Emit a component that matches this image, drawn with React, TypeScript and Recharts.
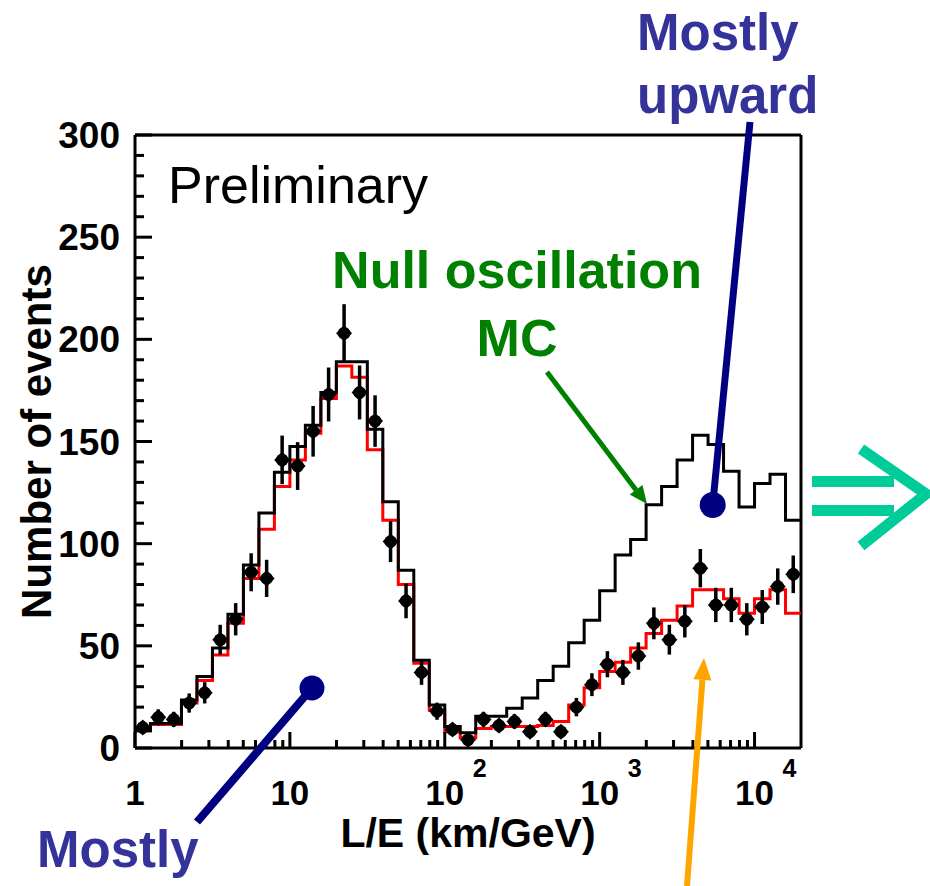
import { ComposedChart, Line, Scatter, ErrorBar, XAxis, YAxis, ReferenceLine, Label } from "recharts";

const FONT = '"Liberation Sans", Arial, Helvetica, sans-serif';

const WIDTH = 930;
const HEIGHT = 886;
// plot box in page pixels; chart margins and axis sizes are derived from it
const PLOT = { left: 135, right: 801, top: 135, bottom: 748 };

// 43 bins of 0.1 in log10(L/E), from 1 to 10^4.3 km/GeV
const BIN = 0.1;
const binCount = 43;
const X_MAX = binCount * BIN;
const Y_MAX = 300;

// Null oscillation MC (black histogram)
const nullMc = [
  8.5, 12, 12, 23.5, 35, 49, 65.5, 89.5, 115, 135,
  147.5, 158, 174, 189, 189, 156, 120.5, 87, 43, 21,
  10.5, 7.5, 15.5, 15.5, 19.5, 24.5, 33, 40, 51.5, 62.5,
  77, 94.5, 102, 119, 128, 141, 153, 148.5, 135.5, 118,
  129.5, 134, 111.5,
];

// Oscillated MC, best fit (red histogram)
const oscMc = [
  8.5, 11.5, 11.5, 22, 33, 45.5, 61, 83, 107, 128,
  141, 154, 171, 187, 181.5, 146, 111.5, 80, 41.5, 18.5,
  8, 5, 9.5, 10.5, 10.5, 10.5, 11, 13, 21, 29.5,
  37.5, 42, 49, 56, 62.5, 69.5, 77.5, 77.5, 73, 66,
  73, 77.5, 66,
];

// Observed events per bin and their errors
const observed = [
  10, 15, 14, 22, 27, 53, 63, 86, 83, 141,
  138, 155, 173, 203, 174, 160, 101, 72, 37, 18,
  9, 4, 14, 11, 13, 8, 14, 8, 20, 31,
  41, 37, 45, 61, 53, 62, 88, 70, 70, 63,
  69, 79, 85,
];
const observedErr = [
  3.2, 3.9, 3.7, 4.7, 5.2, 7.3, 7.9, 9.3, 9.1, 11.9,
  11.7, 12.4, 13.2, 14.2, 13.2, 12.6, 10, 8.5, 6.1, 4.2,
  3, 2, 3.7, 3.3, 3.6, 2.8, 3.7, 2.8, 4.5, 5.6,
  6.4, 6.1, 6.7, 7.8, 7.3, 7.9, 9.4, 8.4, 8.4, 7.9,
  8.3, 8.9, 9.2,
];

// axis ticks: labelled majors, short minors
const yMajorTicks = [0, 50, 100, 150, 200, 250, 300];
const yAllTicks = Array.from({ length: 31 }, (_, i) => i * 10);
const xMajorTicks = [0, 1, 2, 3, 4];
const xAllTicks: { v: number; major: boolean }[] = [];
for (let d = 0; d <= 4; d++) {
  for (let m = 1; m <= 9; m++) {
    const v = d + Math.log10(m);
    if (v <= X_MAX + 1e-9) xAllTicks.push({ v, major: m === 1 });
  }
}

const edges = Array.from({ length: binCount + 1 }, (_, i) => i * BIN);
const stepRows = (values: number[]) =>
  edges.map((x, i) => ({ x, v: values[Math.min(i, values.length - 1)] }));

const nullRows = stepRows(nullMc);
const oscRows = stepRows(oscMc);
const pointRows = observed.map((n, i) => ({ x: (i + 0.5) * BIN, n, err: observedErr[i] }));

const AXIS_LINE = { stroke: "#000", strokeWidth: 3 };

// x labels: 1, 10, then 10 with a raised exponent
const XTickLabel = ({ x, y, payload }: any) => {
  const d = Math.round(payload.value);
  return (
    <g fontFamily={FONT} fontWeight="bold" fill="#000">
      <text x={x} y={y + 57} textAnchor="middle" fontSize={35}>
        {d === 0 ? "1" : "10"}
      </text>
      {d >= 2 && (
        <text x={x + 28} y={y + 29} fontSize={25}>
          {d}
        </text>
      )}
    </g>
  );
};

const YTickLabel = ({ x, y, payload }: any) => (
  <text x={x - 15} y={y + 13} textAnchor="end" fontFamily={FONT} fontWeight="bold" fontSize={37} fill="#000">
    {payload.value}
  </text>
);

const Marker = ({ cx, cy }: any) => (
  <g>
    <circle cx={cx} cy={cy} r={6.3} fill="#000" />
    <path d={`M${cx},${cy - 8}L${cx + 8},${cy}L${cx},${cy + 8}L${cx - 8},${cy}Z`} fill="#000" />
  </g>
);

const NAVY_TEXT = "#333399";
const NAVY = "#000080";
const GREEN = "#008000";
const ORANGE = "#ffa500";
const TEAL = "#00cc99";

// inward tick marks along the left and bottom edges of the plot box
function TickMarks() {
  const px = (v: number) => PLOT.left + (v / X_MAX) * (PLOT.right - PLOT.left);
  const py = (v: number) => PLOT.bottom - (v / Y_MAX) * (PLOT.bottom - PLOT.top);
  return (
    <g stroke="#000" strokeWidth={3}>
      {yAllTicks.map((v) => (
        <line key={`y${v}`} x1={PLOT.left} x2={PLOT.left + (v % 50 === 0 ? 17 : 9)} y1={py(v)} y2={py(v)} />
      ))}
      {xAllTicks.map(({ v, major }) => (
        <line key={`x${v}`} x1={px(v)} x2={px(v)} y1={PLOT.bottom} y2={PLOT.bottom - (major ? 16 : 8)} />
      ))}
    </g>
  );
}

function Annotations() {
  return (
    <svg width={WIDTH} height={HEIGHT} style={{ position: "absolute", left: 0, top: 0, pointerEvents: "none" }}>
      <TickMarks />

      <text x={168} y={203} fontFamily={FONT} fontSize={52} fill="#000">Preliminary</text>

      <g fontFamily={FONT} fontWeight="bold" fontSize={52} fill={GREEN} textAnchor="middle">
        <text x={517} y={288}>Null oscillation</text>
        <text x={517} y={356}>MC</text>
      </g>
      <line x1={547} y1={372} x2={636} y2={490} stroke={GREEN} strokeWidth={5} />
      <polygon points="647,504 629.7,494.5 642.5,484.9" fill={GREEN} />

      <g fontFamily={FONT} fontWeight="bold" fontSize={51} fill={NAVY_TEXT}>
        <text x={637} y={50}>Mostly</text>
        <text x={637} y={113}>upward</text>
        <text x={37} y={867}>Mostly</text>
      </g>
      <line x1={750} y1={122} x2={712.7} y2={505} stroke={NAVY} strokeWidth={7} />
      <circle cx={712.7} cy={505} r={13} fill={NAVY} />
      <line x1={197} y1={822} x2={312} y2={688} stroke={NAVY} strokeWidth={8} />
      <circle cx={312} cy={688} r={12.5} fill={NAVY} />

      <line x1={687} y1={886} x2={702.4} y2={680} stroke={ORANGE} strokeWidth={6} />
      <polygon points="704,658 711.4,680.6 693.4,679.2" fill={ORANGE} />

      <rect x={812} y={476} width={82} height={11} fill={TEAL} />
      <rect x={812} y={505} width={82} height={11} fill={TEAL} />
      <polyline points="861,449 926,494 861,546" fill="none" stroke={TEAL} strokeWidth={11} />
    </svg>
  );
}

export default function App() {
  return (
    <div style={{ position: "absolute", left: 0, top: 0, width: WIDTH, height: HEIGHT, background: "#fff" }}>
      <ComposedChart
        width={WIDTH}
        height={HEIGHT}
        margin={{ top: PLOT.top, right: WIDTH - PLOT.right, bottom: 0, left: 0 }}
      >
        <XAxis
          dataKey="x"
          type="number"
          domain={[0, X_MAX]}
          ticks={xMajorTicks}
          interval={0}
          height={HEIGHT - PLOT.bottom}
          tickSize={0}
          tickMargin={0}
          axisLine={AXIS_LINE}
          tickLine={false}
          allowDataOverflow
          tick={<XTickLabel />}
        >
          <Label
            content={({ viewBox }: any) => (
              <text
                x={viewBox.x + viewBox.width / 2}
                y={viewBox.y + 99}
                textAnchor="middle"
                fontFamily={FONT}
                fontWeight="bold"
                fontSize={41}
                fill="#000"
              >
                L/E (km/GeV)
              </text>
            )}
          />
        </XAxis>
        <YAxis
          type="number"
          domain={[0, Y_MAX]}
          ticks={yMajorTicks}
          interval={0}
          width={PLOT.left}
          tickSize={0}
          tickMargin={0}
          axisLine={AXIS_LINE}
          tickLine={false}
          allowDataOverflow
          tick={<YTickLabel />}
        >
          <Label
            content={({ viewBox }: any) => {
              const cx = 51;
              const cy = viewBox.y + viewBox.height / 2;
              return (
                <text
                  x={cx}
                  y={cy}
                  transform={`rotate(-90 ${cx} ${cy})`}
                  textAnchor="middle"
                  fontFamily={FONT}
                  fontWeight="bold"
                  fontSize={42}
                  fill="#000"
                >
                  Number of events
                </text>
              );
            }}
          />
        </YAxis>
        {/* top and right sides of the frame */}
        <ReferenceLine y={Y_MAX} stroke="#000" strokeWidth={3} />
        <ReferenceLine x={X_MAX} stroke="#000" strokeWidth={3} />
        <Line
          data={oscRows}
          dataKey="v"
          type="stepAfter"
          stroke="#ff0000"
          strokeWidth={3}
          dot={false}
          activeDot={false}
          isAnimationActive={false}
        />
        <Line
          data={nullRows}
          dataKey="v"
          type="stepAfter"
          stroke="#000"
          strokeWidth={3}
          dot={false}
          activeDot={false}
          isAnimationActive={false}
        />
        <Scatter data={pointRows} dataKey="n" fill="#000" shape={<Marker />} isAnimationActive={false}>
          <ErrorBar dataKey="err" direction="y" width={0} strokeWidth={3.5} stroke="#000" isAnimationActive={false} />
        </Scatter>
      </ComposedChart>
      <Annotations />
    </div>
  );
}
